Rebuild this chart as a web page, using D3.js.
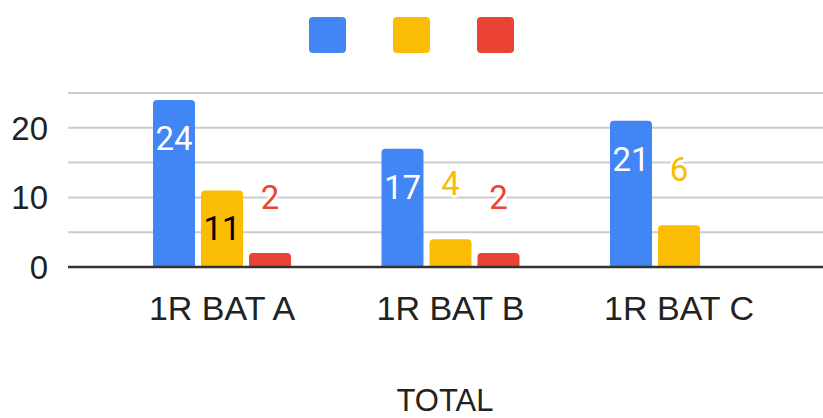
<!DOCTYPE html>
<html>
<head>
<meta charset="utf-8">
<script src="https://cdn.jsdelivr.net/npm/d3@7"></script>
<style>
  html, body { margin: 0; padding: 0; background: #fff; }
  svg { display: block; }
</style>
</head>
<body>
<svg id="svg" width="823" height="418"></svg>
<script>
// chart data
var categories = ["1R BAT A", "1R BAT B", "1R BAT C"];
var seriesNames = ["s1", "s2", "s3"];
var seriesColors = ["#4285F4", "#FBBC04", "#EA4335"];
var series1 = [24, 17, 21];
var series2 = [11, 4, 6];
var series3 = [2, 2, 0];
var yTicks = [0, 10, 20];
var gridTicks = [5, 10, 15, 20, 25];
var axisTitle = "TOTAL";

var allSeries = [series1, series2, series3];

var svg = d3.select("svg"),
    width = +svg.attr("width"),
    height = +svg.attr("height");

var plotLeft = 68, plotRight = 823;

var y = d3.scaleLinear().domain([0, 25]).range([267, 93]);

var x0 = d3.scaleBand()
    .domain(categories)
    .range([107.75, 793.25])
    .paddingInner(0.396)
    .paddingOuter(0.198);

var x1 = d3.scaleBand()
    .domain(seriesNames)
    .range([0, x0.bandwidth()])
    .paddingInner(0.125)
    .paddingOuter(0);

// gridlines
svg.append("g").selectAll("line")
    .data(gridTicks)
    .enter()
    .append("line")
    .attr("x1", plotLeft)
    .attr("x2", plotRight)
    .attr("y1", function (d) { return y(d); })
    .attr("y2", function (d) { return y(d); })
    .style("stroke", "#cccccc")
    .style("stroke-width", 2);

// y tick labels
svg.append("g").selectAll("text")
    .data(yTicks)
    .enter()
    .append("text")
    .attr("x", 48)
    .attr("y", function (d) { return y(d) + 12; })
    .attr("text-anchor", "end")
    .style("font-family", "'Liberation Sans', Arial, sans-serif")
    .style("font-size", "33px")
    .style("fill", "#222")
    .text(function (d) { return d; });

// flatten bar data
var bars = [];
categories.forEach(function (c, i) {
    allSeries.forEach(function (s, j) {
        bars.push({ cat: c, series: seriesNames[j], idx: j, value: s[i] });
    });
});

// rounded-top bar path
function barPath(d) {
    var bx = x0(d.cat) + x1(d.series),
        bw = x1.bandwidth(),
        top = y(d.value),
        bottom = y(0),
        r = Math.min(4, (bottom - top) / 2);
    return "M" + bx + "," + bottom +
        "V" + (top + r) +
        "Q" + bx + "," + top + " " + (bx + r) + "," + top +
        "H" + (bx + bw - r) +
        "Q" + (bx + bw) + "," + top + " " + (bx + bw) + "," + (top + r) +
        "V" + bottom + "Z";
}

svg.append("g").selectAll("path")
    .data(bars.filter(function (d) { return d.value > 0; }))
    .enter()
    .append("path")
    .attr("d", barPath)
    .attr("fill", function (d) { return seriesColors[d.idx]; });

// zero axis line
svg.append("line")
    .attr("x1", plotLeft)
    .attr("x2", plotRight)
    .attr("y1", y(0))
    .attr("y2", y(0))
    .style("stroke", "#333333")
    .style("stroke-width", 2.5);

// data labels
function isInside(d) { return (y(0) - y(d.value)) > 60; }

var labels = svg.append("g").selectAll("text")
    .data(bars.filter(function (d) { return d.value > 0; }))
    .enter()
    .append("text")
    .attr("x", function (d) { return x0(d.cat) + x1(d.series) + x1.bandwidth() / 2; })
    .attr("y", function (d) { return isInside(d) ? y(d.value) + 50 : y(d.value) - 44; })
    .attr("text-anchor", "middle")
    .style("font-family", "Roboto, sans-serif")
    .style("font-size", "33px")
    .style("paint-order", "stroke")
    .style("stroke-linejoin", "round")
    .style("stroke-width", 5)
    .style("stroke", function (d) { return isInside(d) ? seriesColors[d.idx] : "#ffffff"; })
    .style("fill", function (d) {
        if (!isInside(d)) return seriesColors[d.idx];
        return d.idx === 1 ? "#000000" : "#ffffff";
    })
    .text(function (d) { return d.value; });

// x labels
svg.append("g").selectAll("text")
    .data(categories)
    .enter()
    .append("text")
    .attr("x", function (d) { return x0(d) + x0.bandwidth() / 2; })
    .attr("y", 320)
    .attr("text-anchor", "middle")
    .style("font-family", "'Liberation Sans', Arial, sans-serif")
    .style("font-size", "34px")
    .style("fill", "#222")
    .text(function (d) { return d; });

// axis title
svg.append("text")
    .attr("x", 445)
    .attr("y", 411)
    .attr("text-anchor", "middle")
    .style("font-family", "'Liberation Sans', Arial, sans-serif")
    .style("font-size", "31px")
    .style("fill", "#222")
    .text(axisTitle);

// legend (colour swatches only)
var legend = svg.append("g").selectAll("rect")
    .data(seriesColors)
    .enter()
    .append("rect")
    .attr("x", function (d, i) { return 309 + i * 84; })
    .attr("y", 17)
    .attr("width", 37)
    .attr("height", 36)
    .attr("rx", 4)
    .attr("fill", function (d) { return d; });
</script>
</body>
</html>
